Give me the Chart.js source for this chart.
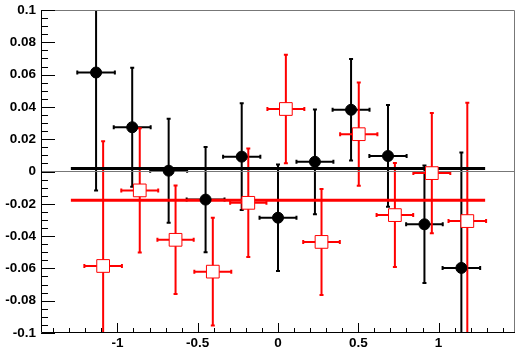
<!DOCTYPE html>
<html>
<head>
<meta charset="utf-8">
<script src="https://cdn.jsdelivr.net/npm/chart.js@4/dist/chart.umd.min.js"></script>
<style>
html, body { margin: 0; padding: 0; background: #fff; }
</style>
</head>
<body>
<canvas id="grafica" width="525" height="351"></canvas>
<script>
// Rango de los ejes
const xMin = -1.476, xMax = 1.476;
const yMin = -0.1, yMax = 0.1;

// Etiquetas de los ejes
const xTicks = [-1, -0.5, 0, 0.5, 1];
const yTicks = [-0.1, -0.08, -0.06, -0.04, -0.02, 0, 0.02, 0.04, 0.06, 0.08, 0.1];

// Serie negra (círculos)
const negroX    = [-1.133, -0.908, -0.681, -0.451, -0.226, 0.000, 0.230, 0.455, 0.685, 0.912, 1.142];
const negroY    = [0.0613, 0.0274, 0.0005, -0.0174, 0.0092, -0.0286, 0.0060, 0.0382, 0.0096, -0.0327, -0.0597];
const negroErrX = [0.117, 0.115, 0.115, 0.118, 0.116, 0.115, 0.115, 0.115, 0.116, 0.114, 0.117];
const negroErrY = [0.0730, 0.0368, 0.0322, 0.0326, 0.0330, 0.0330, 0.0324, 0.0314, 0.0315, 0.0364, 0.0715];

// Serie roja (cuadrados abiertos)
const rojoX    = [-1.089, -0.861, -0.638, -0.406, -0.185, 0.049, 0.271, 0.503, 0.728, 0.958, 1.179];
const rojoY    = [-0.0585, -0.0117, -0.0423, -0.0620, -0.0194, 0.0387, -0.0436, 0.0231, -0.0270, -0.0010, -0.0307];
const rojoErrX = [0.117, 0.115, 0.113, 0.115, 0.113, 0.115, 0.114, 0.116, 0.114, 0.115, 0.117];
const rojoErrY = [0.0773, 0.0385, 0.0336, 0.0334, 0.0336, 0.0336, 0.0328, 0.0320, 0.0322, 0.0372, 0.0732];

// Ajustes constantes
const ajusteRango = [-1.29, 1.29];
const ajusteNegro = 0.0018;
const ajusteRojo = -0.0178;

const fuente = { family: 'Liberation Sans', size: 13.5, weight: 'bold' };

function puntos(xs, ys) {
    return xs.map((x, i) => ({ x: x, y: ys[i] }));
}

function dibujarErrores(ctx, sx, sy, xs, ys, ex, ey, color) {
    ctx.strokeStyle = color;
    ctx.lineWidth = 2;
    const cap = 2;
    for (let i = 0; i < xs.length; i++) {
        let px = sx.getPixelForValue(xs[i]);
        let py = sy.getPixelForValue(ys[i]);
        let x1 = sx.getPixelForValue(xs[i] - ex[i]);
        let x2 = sx.getPixelForValue(xs[i] + ex[i]);
        let y1 = sy.getPixelForValue(ys[i] + ey[i]);
        let y2 = sy.getPixelForValue(ys[i] - ey[i]);
        ctx.beginPath();
        ctx.moveTo(px, y1); ctx.lineTo(px, y2);
        ctx.moveTo(x1, py); ctx.lineTo(x2, py);
        // remates
        ctx.moveTo(px - cap, y1); ctx.lineTo(px + cap, y1);
        ctx.moveTo(px - cap, y2); ctx.lineTo(px + cap, y2);
        ctx.moveTo(x1, py - cap); ctx.lineTo(x1, py + cap);
        ctx.moveTo(x2, py - cap); ctx.lineTo(x2, py + cap);
        ctx.stroke();
    }
}

const barrasError = {
    id: 'barrasError',
    beforeDatasetsDraw(chart) {
        const ctx = chart.ctx, a = chart.chartArea;
        const sx = chart.scales.x, sy = chart.scales.y;
        ctx.save();
        ctx.beginPath();
        ctx.rect(a.left, a.top, a.right - a.left, a.bottom - a.top);
        ctx.clip();
        dibujarErrores(ctx, sx, sy, negroX, negroY, negroErrX, negroErrY, '#000');
        dibujarErrores(ctx, sx, sy, rojoX, rojoY, rojoErrX, rojoErrY, '#ff0000');
        ctx.restore();
    }
};

// Marco y marcas interiores estilo ROOT
const marco = {
    id: 'marco',
    afterDraw(chart) {
        const ctx = chart.ctx, a = chart.chartArea;
        const sx = chart.scales.x, sy = chart.scales.y;
        ctx.save();
        ctx.lineWidth = 1;
        ctx.strokeStyle = '#777';
        ctx.beginPath();
        ctx.moveTo(a.left, a.top + 0.5); ctx.lineTo(a.right - 0.5, a.top + 0.5);
        ctx.lineTo(a.right - 0.5, a.bottom);
        ctx.stroke();

        ctx.strokeStyle = '#000';
        ctx.beginPath();
        ctx.moveTo(a.left + 0.5, a.top); ctx.lineTo(a.left + 0.5, a.bottom - 0.5);
        ctx.lineTo(a.right, a.bottom - 0.5);
        // marcas eje y
        for (let v = -100; v <= 100; v += 5) {
            let py = Math.round(sy.getPixelForValue(v / 1000)) + 0.5;
            let largo = (v % 20 === 0) ? 14 : 7;
            ctx.moveTo(a.left, py); ctx.lineTo(a.left + largo, py);
        }
        // marcas eje x
        for (let v = -14; v <= 14; v++) {
            let px = Math.round(sx.getPixelForValue(v / 10)) + 0.5;
            let largo = (v % 5 === 0) ? 10 : 5;
            ctx.moveTo(px, a.bottom); ctx.lineTo(px, a.bottom - largo);
        }
        ctx.stroke();
        ctx.restore();
    }
};

const ctx = document.getElementById('grafica').getContext('2d');

new Chart(ctx, {
    type: 'scatter',
    data: {
        datasets: [
            {
                data: puntos(negroX, negroY),
                pointStyle: 'circle',
                pointRadius: 5.5,
                pointHoverRadius: 5.5,
                backgroundColor: '#000',
                borderColor: '#000',
                borderWidth: 1,
                order: 1
            },
            {
                data: puntos(rojoX, rojoY),
                pointStyle: 'rect',
                pointRadius: 9,
                pointHoverRadius: 9,
                backgroundColor: '#fff',
                borderColor: '#ff0000',
                borderWidth: 1,
                order: 0
            },
            {
                type: 'line',
                data: [{ x: ajusteRango[0], y: ajusteRojo }, { x: ajusteRango[1], y: ajusteRojo }],
                borderColor: '#ff0000',
                borderWidth: 3,
                pointRadius: 0,
                order: 2
            },
            {
                type: 'line',
                data: [{ x: ajusteRango[0], y: ajusteNegro }, { x: ajusteRango[1], y: ajusteNegro }],
                borderColor: '#000',
                borderWidth: 3,
                pointRadius: 0,
                order: 3
            },
            {
                type: 'line',
                data: [{ x: xMin, y: 0 }, { x: xMax, y: 0 }],
                borderColor: '#777',
                borderWidth: 1,
                pointRadius: 0,
                order: 4
            }
        ]
    },
    options: {
        responsive: false,
        animation: false,
        layout: { padding: { top: 7, right: 3, left: 0, bottom: 0 } },
        plugins: {
            legend: { display: false },
            tooltip: { enabled: false }
        },
        scales: {
            x: {
                type: 'linear',
                min: xMin,
                max: xMax,
                afterBuildTicks: s => { s.ticks = xTicks.map(v => ({ value: v })); },
                afterFit: s => { s.height = 18; s.paddingLeft = 0; s.paddingRight = 0; },
                grid: { display: false, drawTicks: false },
                border: { display: false },
                ticks: {
                    color: '#000',
                    font: fuente,
                    padding: 2,
                    maxRotation: 0,
                    callback: v => String(v)
                }
            },
            y: {
                type: 'linear',
                min: yMin,
                max: yMax,
                afterBuildTicks: s => { s.ticks = yTicks.map(v => ({ value: v })); },
                afterFit: s => { s.width = 41; s.paddingTop = 0; s.paddingBottom = 0; },
                grid: { display: false, drawTicks: false },
                border: { display: false },
                ticks: {
                    color: '#000',
                    font: fuente,
                    padding: 5,
                    callback: v => String(+v.toFixed(2))
                }
            }
        }
    },
    plugins: [barrasError, marco]
});
</script>
</body>
</html>
